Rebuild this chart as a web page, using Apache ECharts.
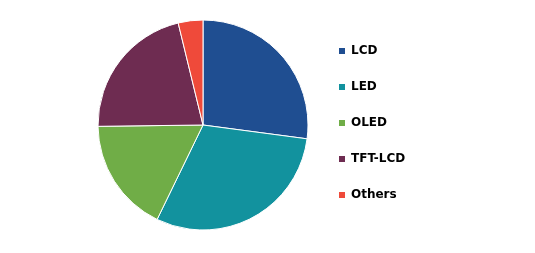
<!DOCTYPE html>
<html><head><meta charset="utf-8">
<script src="https://cdn.jsdelivr.net/npm/echarts@6/dist/echarts.min.js"></script>
<style>html,body{margin:0;padding:0;background:#fff}#c{width:535px;height:253px}</style>
</head><body><div id="c"></div>
<script>
const categories = ['LCD', 'LED', 'OLED', 'TFT-LCD', 'Others'];
const values = [27.1, 30.1, 17.6, 21.4, 3.8];
const colors = ['#1F4E91', '#12929E', '#70AD47', '#6E2C51', '#EF4A3A'];

const chart = echarts.init(document.getElementById('c'), null, {renderer: 'canvas'});
chart.setOption({
  animation: false,
  color: colors,
  legend: {
    orient: 'vertical',
    left: 332,
    top: 40,
    itemWidth: 8,
    itemHeight: 8,
    itemGap: 24,
    icon: 'rect',
    textStyle: {fontFamily: 'DejaVu Sans', fontWeight: 'bold', fontSize: 12, color: '#000'},
    data: categories
  },
  series: [{
    type: 'pie',
    center: [203, 125],
    radius: 105,
    startAngle: 90,
    clockwise: true,
    label: {show: false},
    labelLine: {show: false},
    itemStyle: {borderColor: '#fff', borderWidth: 1},
    emphasis: {disabled: true},
    data: categories.map((n, i) => ({name: n, value: values[i]}))
  }]
});
</script></body></html>
